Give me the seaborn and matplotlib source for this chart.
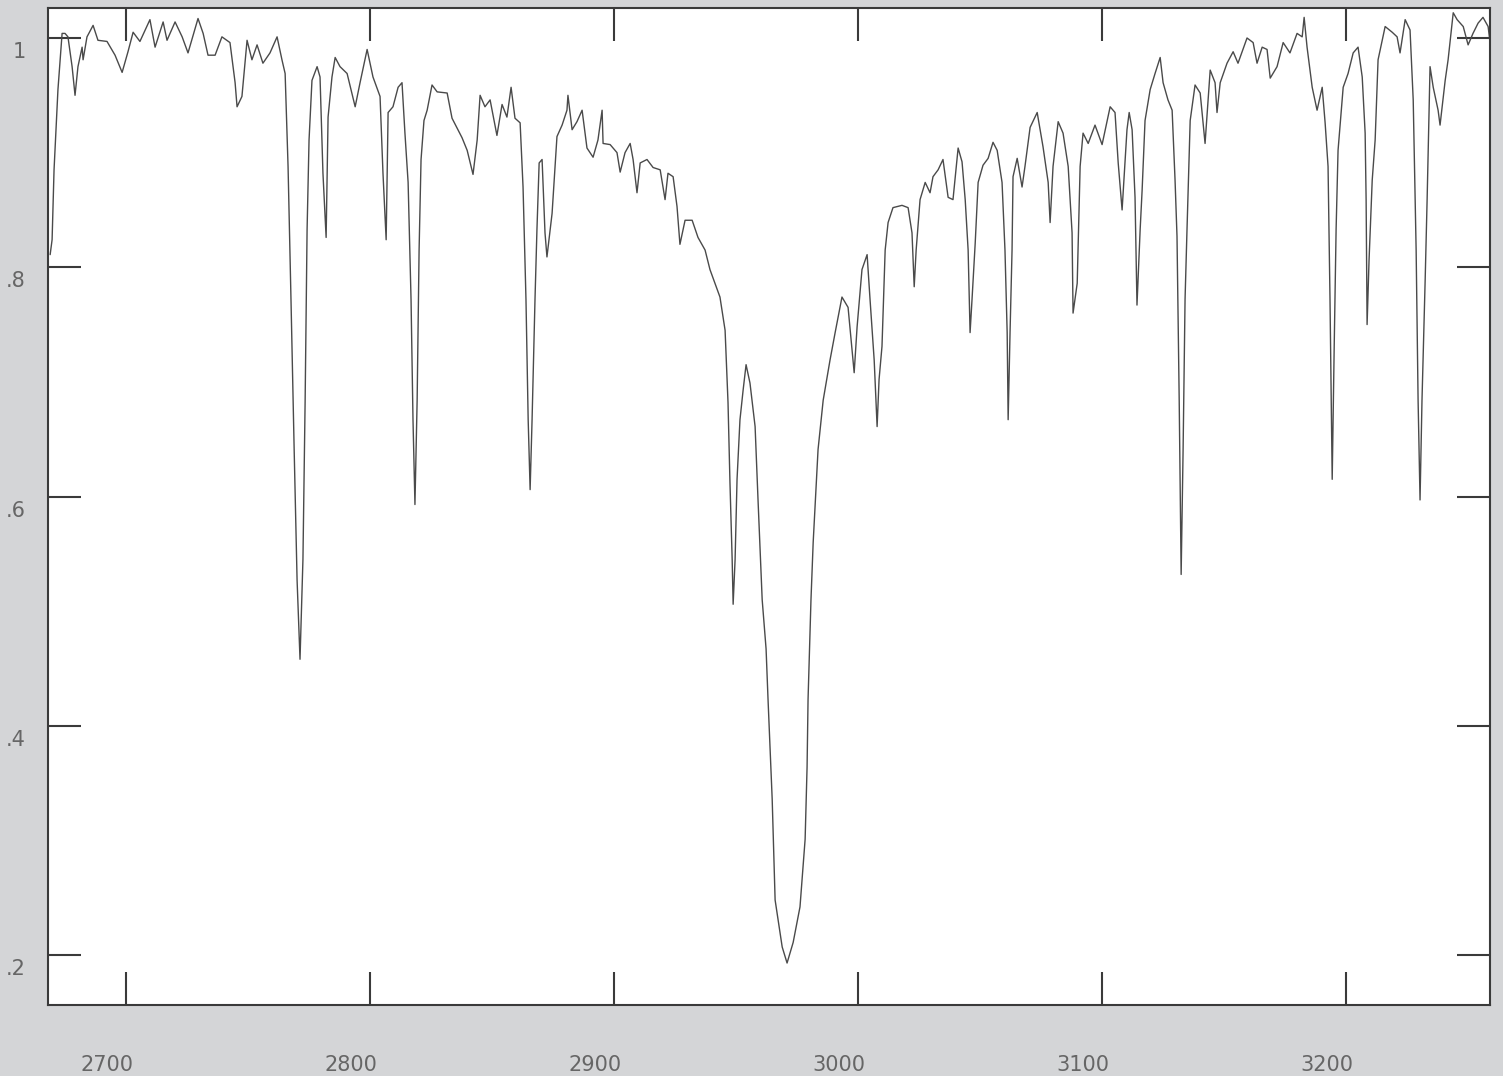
import numpy as np
import pandas as pd
import matplotlib
matplotlib.use("Agg")
import matplotlib.pyplot as plt
import matplotlib.transforms as mtransforms
import seaborn as sns

# Spectrum (wavenumber, transmittance)
wavenumber = [
    2668.9, 2669.7, 2670.5, 2671.3, 2672.1, 2673.8, 2675.0, 2676.2, 2677.9, 2679.1,
    2680.3, 2682.0, 2682.4, 2684.0, 2686.5, 2688.5, 2692.2, 2695.5, 2698.4, 2700.8,
    2702.9, 2705.7, 2709.8, 2711.9, 2715.2, 2716.8, 2720.1, 2723.0, 2725.4, 2729.5,
    2731.6, 2733.6, 2736.5, 2739.3, 2742.6, 2744.7, 2745.5, 2747.5, 2749.6, 2751.6,
    2753.7, 2756.1, 2759.0, 2761.9, 2763.9, 2765.2, 2766.4, 2767.6, 2768.9, 2770.1,
    2771.3, 2772.5, 2773.4, 2774.2, 2775.0, 2776.2, 2778.3, 2779.5, 2780.7, 2782.0,
    2782.8, 2784.4, 2785.7, 2787.7, 2790.6, 2793.9, 2795.9, 2798.8, 2801.2, 2804.1,
    2805.3, 2806.6, 2807.4, 2809.4, 2811.5, 2813.1, 2814.3, 2815.6, 2816.8, 2817.6,
    2818.4, 2819.3, 2820.1, 2820.9, 2822.1, 2823.4, 2825.4, 2827.5, 2831.6, 2833.6,
    2837.7, 2839.8, 2842.2, 2843.9, 2845.1, 2847.1, 2849.2, 2852.0, 2854.1, 2856.1,
    2857.8, 2859.4, 2861.5, 2862.7, 2863.9, 2864.8, 2865.6, 2866.4, 2867.6, 2868.4,
    2869.3, 2870.5, 2871.7, 2872.5, 2874.6, 2876.6, 2878.7, 2880.7, 2881.1, 2882.8,
    2884.8, 2886.9, 2888.9, 2891.4, 2893.4, 2895.1, 2895.5, 2898.4, 2901.2, 2902.5,
    2904.5, 2906.6, 2907.8, 2909.4, 2910.7, 2913.5, 2916.0, 2918.9, 2920.9, 2922.1,
    2924.2, 2925.8, 2927.0, 2929.1, 2932.0, 2934.4, 2937.3, 2939.3, 2943.4, 2945.5,
    2946.7, 2947.5, 2948.4, 2948.8, 2949.6, 2950.4, 2951.6, 2952.9, 2954.1, 2955.7,
    2957.8, 2959.0, 2960.7, 2962.3, 2963.1, 2964.8, 2966.0, 2968.9, 2970.9, 2973.4,
    2976.2, 2978.3, 2979.1, 2979.5, 2980.7, 2981.6, 2983.6, 2985.7, 2988.5, 2990.6,
    2993.4, 2995.9, 2997.5, 2998.4, 2999.6, 3001.6, 3003.7, 3004.9, 3006.6, 3007.8,
    3008.6, 3009.8, 3011.1, 3012.3, 3014.3, 3018.0, 3020.5, 3022.1, 3023.0, 3023.8,
    3025.4, 3027.5, 3029.5, 3030.7, 3032.8, 3034.8, 3036.9, 3038.9, 3041.0, 3042.6,
    3043.9, 3045.1, 3045.9, 3046.7, 3048.0, 3049.2, 3051.2, 3053.3, 3055.3, 3057.0,
    3059.0, 3060.2, 3061.1, 3061.5, 3062.3, 3063.1, 3063.5, 3065.2, 3067.2, 3068.4,
    3070.5, 3073.4, 3075.8, 3077.9, 3078.7, 3079.9, 3082.0, 3084.0, 3086.1, 3087.7,
    3088.1, 3088.9, 3089.8, 3091.0, 3092.2, 3094.3, 3097.1, 3100.0, 3103.3, 3105.3,
    3106.6, 3108.2, 3110.2, 3111.1, 3112.3, 3113.5, 3114.3, 3115.6, 3116.4, 3117.6,
    3119.7, 3121.7, 3123.8, 3125.0, 3127.0, 3128.7, 3129.9, 3130.7, 3131.6, 3132.4,
    3133.2, 3134.0, 3134.8, 3136.1, 3138.1, 3140.2, 3142.2, 3144.3, 3146.3, 3147.1,
    3148.4, 3151.2, 3153.7, 3155.7, 3159.4, 3161.9, 3163.5, 3165.6, 3167.6, 3168.9,
    3171.7, 3174.2, 3177.0, 3179.9, 3182.0, 3182.8, 3184.0, 3186.1, 3188.1, 3190.2,
    3191.4, 3192.6, 3193.4, 3194.3, 3195.1, 3195.9, 3196.7, 3198.8, 3200.8, 3202.9,
    3204.9, 3206.6, 3207.8, 3208.2, 3208.6, 3209.4, 3210.7, 3211.9, 3213.1, 3216.0,
    3218.9, 3220.9, 3222.1, 3224.2, 3226.2, 3227.5, 3228.7, 3229.5, 3230.3, 3231.1,
    3232.4, 3233.2, 3234.4, 3235.7, 3237.7, 3238.5, 3240.6, 3241.8, 3243.9, 3245.5,
    3248.0, 3250.0, 3252.0, 3254.1, 3256.1, 3258.2, 3259.0,
]
transmittance = [
    0.811, 0.824, 0.885, 0.920, 0.955, 1.004, 1.004, 1.001, 0.975, 0.950,
    0.975, 0.992, 0.981, 1.001, 1.011, 0.998, 0.997, 0.985, 0.970, 0.988,
    1.005, 0.997, 1.016, 0.992, 1.014, 0.998, 1.014, 1.001, 0.987, 1.017,
    1.004, 0.985, 0.985, 1.001, 0.996, 0.961, 0.940, 0.949, 0.998, 0.981,
    0.994, 0.978, 0.987, 1.001, 0.981, 0.969, 0.888, 0.772, 0.641, 0.527,
    0.458, 0.545, 0.684, 0.833, 0.911, 0.963, 0.975, 0.966, 0.882, 0.826,
    0.931, 0.966, 0.983, 0.975, 0.969, 0.940, 0.961, 0.990, 0.966, 0.949,
    0.882, 0.824, 0.935, 0.940, 0.957, 0.961, 0.917, 0.874, 0.772, 0.667,
    0.593, 0.684, 0.815, 0.894, 0.928, 0.937, 0.959, 0.953, 0.952, 0.930,
    0.913, 0.902, 0.881, 0.911, 0.950, 0.940, 0.946, 0.915, 0.942, 0.931,
    0.957, 0.930, 0.926, 0.870, 0.772, 0.667, 0.606, 0.667, 0.772, 0.833,
    0.891, 0.894, 0.830, 0.809, 0.847, 0.914, 0.924, 0.937, 0.950, 0.920,
    0.927, 0.937, 0.904, 0.896, 0.911, 0.937, 0.908, 0.907, 0.900, 0.883,
    0.900, 0.908, 0.894, 0.865, 0.891, 0.894, 0.887, 0.885, 0.859, 0.882,
    0.879, 0.853, 0.820, 0.841, 0.841, 0.826, 0.815, 0.798, 0.774, 0.745,
    0.682, 0.612, 0.545, 0.506, 0.545, 0.615, 0.667, 0.693, 0.715, 0.699,
    0.661, 0.597, 0.510, 0.467, 0.423, 0.336, 0.248, 0.207, 0.193, 0.211,
    0.242, 0.301, 0.364, 0.423, 0.510, 0.560, 0.641, 0.684, 0.719, 0.743,
    0.774, 0.765, 0.728, 0.708, 0.748, 0.798, 0.811, 0.772, 0.719, 0.661,
    0.702, 0.731, 0.815, 0.839, 0.852, 0.854, 0.852, 0.830, 0.783, 0.815,
    0.859, 0.874, 0.865, 0.879, 0.885, 0.894, 0.861, 0.859, 0.904, 0.892,
    0.859, 0.815, 0.743, 0.772, 0.821, 0.874, 0.889, 0.895, 0.909, 0.902,
    0.874, 0.815, 0.743, 0.667, 0.745, 0.815, 0.879, 0.895, 0.870, 0.888,
    0.922, 0.935, 0.905, 0.874, 0.839, 0.888, 0.927, 0.917, 0.888, 0.830,
    0.760, 0.772, 0.786, 0.888, 0.917, 0.908, 0.924, 0.907, 0.940, 0.935,
    0.891, 0.850, 0.920, 0.935, 0.920, 0.861, 0.767, 0.833, 0.867, 0.928,
    0.955, 0.969, 0.983, 0.961, 0.946, 0.937, 0.876, 0.827, 0.684, 0.532,
    0.641, 0.772, 0.833, 0.928, 0.959, 0.952, 0.908, 0.972, 0.961, 0.935,
    0.961, 0.978, 0.988, 0.978, 1.000, 0.996, 0.978, 0.992, 0.990, 0.965,
    0.975, 0.996, 0.987, 1.004, 1.001, 1.018, 0.992, 0.957, 0.937, 0.957,
    0.926, 0.888, 0.772, 0.615, 0.728, 0.833, 0.902, 0.957, 0.969, 0.987,
    0.992, 0.966, 0.917, 0.859, 0.750, 0.806, 0.876, 0.911, 0.981, 1.010,
    1.005, 1.001, 0.987, 1.016, 1.007, 0.946, 0.815, 0.684, 0.597, 0.684,
    0.789, 0.859, 0.975, 0.957, 0.937, 0.924, 0.963, 0.981, 1.022, 1.016,
    1.010, 0.994, 1.004, 1.013, 1.018, 1.010, 0.996,
]

x_ticks = [2700, 2800, 2900, 3000, 3100, 3200]
x_tick_labels = ["2700", "2800", "2900", "3000", "3100", "3200"]
y_ticks = [1.0, 0.8, 0.6, 0.4, 0.2]
y_tick_labels = ["1", ".8", ".6", ".4", ".2"]

df = pd.DataFrame({"wavenumber": wavenumber, "transmittance": transmittance})

sns.set_style("white")
plt.rcParams["font.family"] = ["DejaVu Sans"]

fig = plt.figure(figsize=(15.03, 10.76), dpi=100)
fig.patch.set_facecolor("#d4d5d7")
ax = fig.add_axes([0.0319, 0.066, 0.9595, 0.9266])
ax.set_facecolor("white")

sns.lineplot(data=df, x="wavenumber", y="transmittance", ax=ax,
             color="#4a4a4a", linewidth=1.0, estimator=None, sort=False)

ax.set_xlim(2668.0, 3259.0)
ax.set_ylim(0.1564, 1.0262)
ax.set_xlabel("")
ax.set_ylabel("")

ax.set_xticks(x_ticks)
ax.set_xticklabels(x_tick_labels)
ax.set_yticks(y_ticks)
ax.set_yticklabels(y_tick_labels)

for s in ax.spines.values():
    s.set_color("#3a3a3a")
    s.set_linewidth(1.5)

ax.tick_params(axis="both", which="major", direction="in", length=24,
               width=1.5, color="#3a3a3a", labelcolor="#666666",
               labelsize=15, top=True, right=True, bottom=True, left=True)
ax.tick_params(axis="x", pad=36)
ax.tick_params(axis="y", pad=16)

dx = mtransforms.ScaledTranslation(-19 / 100, 0, fig.dpi_scale_trans)
for lab in ax.get_xticklabels():
    lab.set_transform(lab.get_transform() + dx)
dy = mtransforms.ScaledTranslation(0, -12 / 100, fig.dpi_scale_trans)
for lab in ax.get_yticklabels():
    lab.set_transform(lab.get_transform() + dy)

fig.savefig("out.png", dpi=100, facecolor=fig.get_facecolor())
